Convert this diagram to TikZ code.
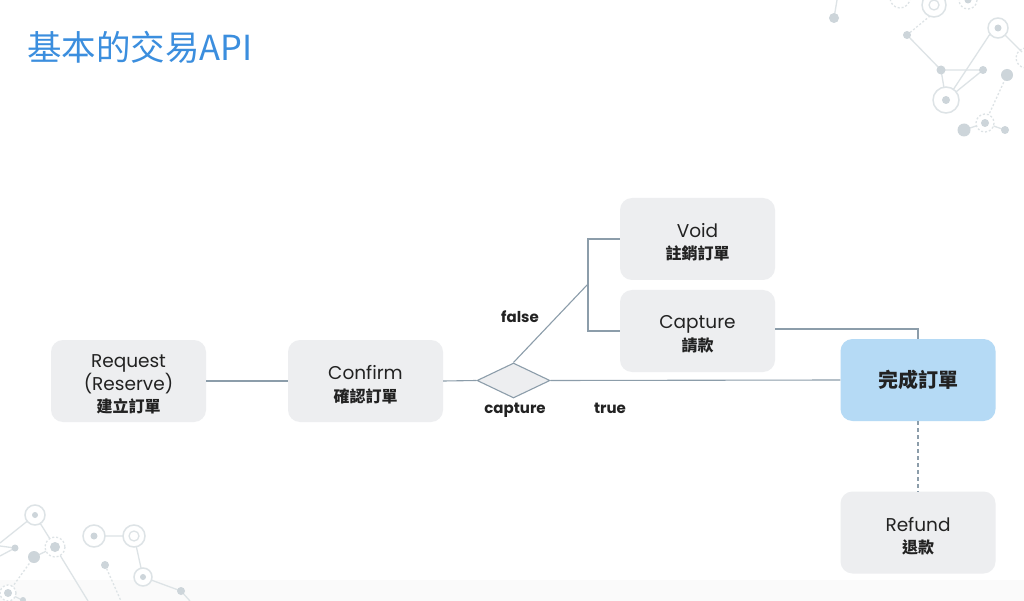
\documentclass[tikz,border=0pt]{standalone}
\usepackage{fontspec}
\setmainfont{Poppins}
\newfontfamily\cjk{Noto Sans CJK TC}
\usetikzlibrary{shapes.geometric}
\definecolor{boxgray}{HTML}{EDEEF0}
\definecolor{boxblue}{HTML}{B5DAF5}
\definecolor{linec}{HTML}{8C9DAA}
\definecolor{titleblue}{HTML}{3B8EDE}
\definecolor{decoline}{HTML}{DDE3E6}
\definecolor{decodot}{HTML}{CDD5DA}
\definecolor{txt}{HTML}{222222}
\tikzset{
  stepbox/.style={rounded corners=12pt, fill=boxgray, draw=none, minimum width=155pt, minimum height=82pt, inner sep=0pt, align=center, text=txt},
  boxtext/.style={align=center, text=txt, inner sep=0pt, yshift=-3.5pt, font=\fontsize{18.5}{22.5}\selectfont},
  donebox/.style={stepbox, fill=boxblue},
  conn/.style={draw=linec, line width=1.1pt},
  lbl/.style={font=\fontsize{15}{17}\selectfont\bfseries, text=txt},
  dline/.style={draw=decoline, line width=1.3pt},
  ddash/.style={draw=decoline, line width=1.3pt, dash pattern=on 2pt off 2pt},
  ddot/.style={fill=decodot},
  dring/.style={draw=decoline, line width=1.5pt, fill=white},
}
\newcommand\zh[1]{{\fontsize{16}{22.5}\selectfont\cjk\bfseries #1}}
\begin{document}
\begin{tikzpicture}[x=1pt,y=-1pt]
\useasboundingbox (0,0) rectangle (1024,601);
\fill[white] (0,0) rectangle (1024,601);
\fill[black!2] (0,580) rectangle (1024,601);
% ---- decorations top right
\draw[dline] (834,18) -- (837,0);
\fill[ddot] (834,18) circle (5);
\draw[ddash] (900,-2) circle (10);
\draw[ddash] (907,35) -- (930,16);
\draw[dline] (907,35) -- (941,70) -- (983,70);
\draw[dline] (941,70) -- (946,100) -- (983,70);
\draw[dline] (953,90) -- (990,34);
\draw[dline] (998,28) -- (1022,52);
\draw[ddash] (1007,75) -- (985,123);
\draw[dline] (964,130) -- (985,123) -- (1005,130);
\draw[dring] (934,5) circle (12); \draw[dline] (934,5) circle (5);
\draw[ddash] (968,0) circle (9); \fill[ddot] (968,0) circle (3.5);
\fill[ddot] (907,35) circle (4);
\fill[ddot] (941,70) circle (4.5);
\fill[ddot] (983,70) circle (4);
\draw[dring] (946,100) circle (13); \fill[ddot] (946,100) circle (4);
\draw[dring] (998,28) circle (10); \fill[ddot] (998,28) circle (3.5);
\draw[ddash] (1026,58) circle (10);
\fill[ddot] (1007,75) circle (6);
\draw[ddash, fill=white] (985,123) circle (9); \fill[ddot] (985,123) circle (4);
\fill[ddot] (964,130) circle (6.5);
\fill[ddot] (1005,130) circle (4);
% ---- decorations bottom left
\draw[dline] (35,515) -- (0,543);
\draw[dline] (35,515) -- (55,547);
\draw[dline] (0,546) -- (15,548) -- (0,556);
\draw[dline] (34,557) -- (55,547) -- (88,601);
\draw[ddash] (34,557) -- (8,593);
\draw[dline] (94,536) -- (134,536) -- (143,577) -- (181,591) -- (190,601);
\draw[ddash] (105,565) -- (121,601);
\draw[dline] (8,593) -- (24,601);
\draw[dring] (35,515) circle (10); \fill[ddot] (35,515) circle (3);
\fill[ddot] (15,548) circle (3.5);
\draw[ddash, fill=white] (55,547) circle (10); \fill[ddot] (55,547) circle (5);
\fill[ddot] (34,557) circle (6);
\draw[ddash, fill=white] (8,593) circle (8); \fill[ddot] (8,593) circle (4);
\draw[dring] (94,536) circle (11); \fill[ddot] (94,536) circle (3.5);
\draw[dring] (134,536) circle (11); \draw[dline] (134,536) circle (5);
\draw[dring] (143,577) circle (9); \fill[ddot] (143,577) circle (3);
\fill[ddot] (181,591) circle (4);
\fill[ddot] (105,565) circle (4);
\fill[ddot] (23,600) circle (3);
% ---- title
\node[anchor=west, inner sep=0pt, text=titleblue, font=\fontsize{34.5}{40}\selectfont\cjk] (title) at (27,47) {基本的交易API};
% ---- nodes
\node[stepbox, label={[boxtext]center:Request\\(Reserve)\\\zh{建立訂單}}] (req) at (128.5,381) {};
\node[stepbox, label={[boxtext]center:Confirm\\\zh{確認訂單}}] (conf) at (365.5,381) {};
\node[diamond, draw=linec, line width=1.1pt, fill=boxgray, minimum width=73pt, minimum height=35pt, inner sep=0pt] (dia) at (513.5,380.5) {};
\node[stepbox, label={[boxtext]center:Void\\\zh{註銷訂單}}] (void) at (697.5,239) {};
\node[stepbox, label={[boxtext]center:Capture\\\zh{請款}}] (cap) at (697.5,331) {};
\node[donebox] (done) at (918,380) {{\fontsize{20}{24}\selectfont\cjk\bfseries 完成訂單}};
\node[stepbox, label={[boxtext]center:Refund\\\zh{退款}}] (ref) at (918,532.5) {};
% ---- labels
\node[lbl] (lfalse) at (520,317) {false};
\node[lbl] (lcapture) at (515,410) {capture};
\node[lbl] (ltrue) at (610,408) {true};
% ---- connectors
\coordinate (fj) at (588,284);
\draw[conn] (req.east) -- (conf.west);
\draw[conn] (conf.east) -- (dia.west);
\draw[conn] (dia.east) -- (done.west);
\draw[conn] (dia.north) -- (fj);
\draw[conn] (void.west) -| (fj) |- (cap.west);
\draw[conn] ([yshift=2pt]cap.east) -| (done.north);
\draw[conn, dash pattern=on 4pt off 3pt] (done.south) -- (ref.north);
\end{tikzpicture}
\end{document}
